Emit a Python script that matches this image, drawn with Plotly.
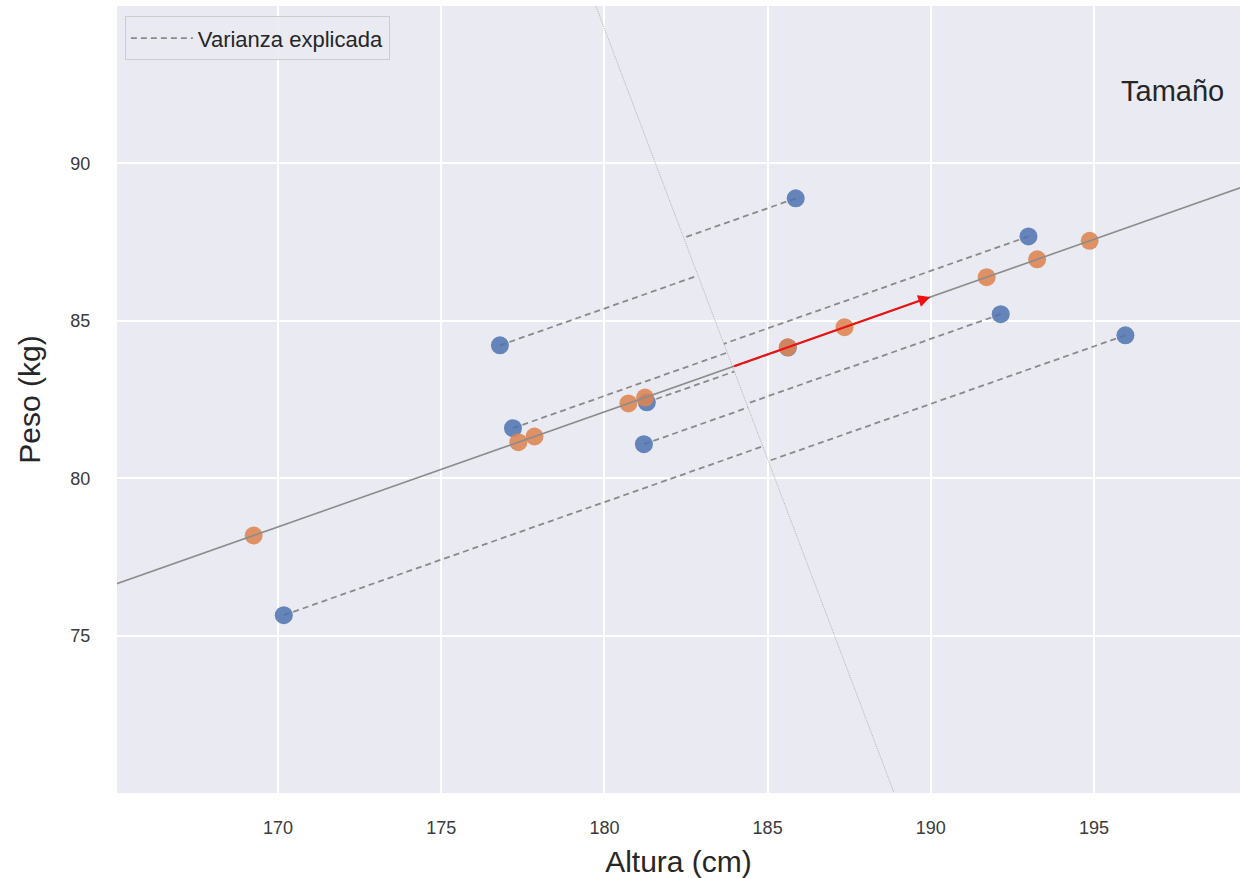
import numpy as np
import plotly.graph_objects as go

# --- data ---
altura = [176.80, 185.86, 177.20, 181.30, 181.21, 192.99, 192.14, 195.96, 170.18, 185.62]
peso = [84.22, 88.89, 81.59, 82.41, 81.08, 87.68, 85.21, 84.54, 75.65, 84.15]
arrow_length = 6.45          # length of the red component arrow (data units)
x_ticks = [170, 175, 180, 185, 190, 195]
y_ticks = [75, 80, 85, 90]
x_range = [165.07, 199.47]
y_range = [70.0, 95.0]

# --- PCA geometry derived from the data ---
X = np.column_stack([altura, peso])
m = X.mean(axis=0)
_, _, vt = np.linalg.svd(X - m)
u = vt[0]
if u[0] < 0:
    u = -u
v = np.array([-u[1], u[0]])

proj = m + np.outer((X - m) @ u, u)       # projection onto main axis
foot = m + np.outer((X - m) @ v, v)       # point on the perpendicular axis

BLUE = "#4C72B0"
ORANGE = "#DD8452"
FONT = "Liberation Sans, Arial, sans-serif"

fig = go.Figure()

# dashed "explained variance" segments
dx, dy = [], []
for p, f in zip(X, foot):
    dx += [p[0], f[0], None]
    dy += [p[1], f[1], None]
fig.add_trace(go.Scatter(x=dx, y=dy, mode="lines", name="Varianza explicada",
                         line=dict(color="#8a8a8a", width=1.8, dash="6px,4px"),
                         showlegend=True, hoverinfo="skip"))

# perpendicular (second component) axis, dotted
t2 = np.array([-40, 40])
fig.add_trace(go.Scatter(x=m[0] + t2 * v[0], y=m[1] + t2 * v[1], mode="lines",
                         line=dict(color="#9a9a9a", width=0.7, dash="1px,1px"),
                         showlegend=False, hoverinfo="skip"))

# original points
fig.add_trace(go.Scatter(x=altura, y=peso, mode="markers", showlegend=False,
                         marker=dict(color=BLUE, size=18, opacity=0.85,
                                     line=dict(width=0))))
# projected points
fig.add_trace(go.Scatter(x=proj[:, 0], y=proj[:, 1], mode="markers", showlegend=False,
                         marker=dict(color=ORANGE, size=18, opacity=0.88,
                                     line=dict(width=0))))

# main component axis
t1 = np.array([-40, 40])
fig.add_trace(go.Scatter(x=m[0] + t1 * u[0], y=m[1] + t1 * u[1], mode="lines",
                         line=dict(color="#8c8c8c", width=1.6),
                         showlegend=False, hoverinfo="skip"))

end = m + arrow_length * u
fig.add_annotation(x=end[0], y=end[1], ax=m[0], ay=m[1], xref="x", yref="y",
                   axref="x", ayref="y", text="", showarrow=True,
                   arrowhead=2, arrowsize=1.1, arrowwidth=2.2, arrowcolor="#ee1111")

fig.add_annotation(x=197.4, y=92.3, xref="x", yref="y", text="Tamaño", showarrow=False,
                   font=dict(family=FONT, size=29, color="#262626"))

fig.update_layout(
    width=1240, height=878,
    margin=dict(l=117, r=0, t=6, b=85),
    paper_bgcolor="white",
    plot_bgcolor="#EAEAF2",
    font=dict(family=FONT, color="#333333"),
    legend=dict(x=0.007, y=0.987, xanchor="left", yanchor="top", itemwidth=62,
                bgcolor="rgba(234,234,242,0.9)", bordercolor="#cccccc", borderwidth=1,
                tracegroupgap=0,
                font=dict(family=FONT, size=22, color="#262626")),
    xaxis=dict(range=x_range, tickvals=x_ticks, showgrid=True, gridcolor="white",
               gridwidth=1.5, zeroline=False, showline=False, ticks="outside",
               ticklen=0, ticklabelstandoff=18,
               tickfont=dict(family=FONT, size=18, color="#3a3a3a"),
               title=dict(text="Altura (cm)", standoff=14,
                          font=dict(family=FONT, size=30, color="#262626"))),
    yaxis=dict(range=y_range, tickvals=y_ticks, showgrid=True, gridcolor="white",
               gridwidth=1.5, zeroline=False, showline=False, ticks="outside",
               ticklen=0, ticklabelstandoff=22,
               tickfont=dict(family=FONT, size=18, color="#3a3a3a"),
               title=dict(text="Peso (kg)", standoff=20,
                          font=dict(family=FONT, size=30, color="#262626"))),
)

fig.write_html("out.html")
